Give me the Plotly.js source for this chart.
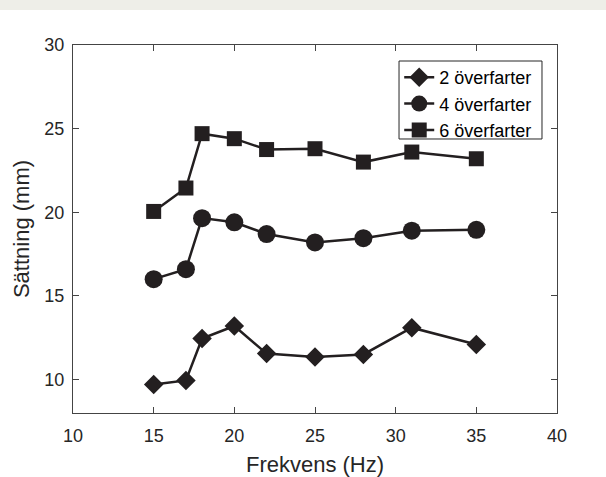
<!DOCTYPE html>
<html>
<head>
<meta charset="utf-8">
<script src="https://cdn.plot.ly/plotly-3.0.1.min.js"></script>
<style>
  html, body { margin: 0; padding: 0; background: #ffffff; }
  #band { position: absolute; left: 0; top: 0; width: 606px; height: 10px; background: #eeeee8; z-index: 5; }
  #chart { width: 606px; height: 477px; }
</style>
</head>
<body>
<div id="band"></div>
<div id="chart"></div>
<script>
const frequencies = [15, 17, 18, 20, 22, 25, 28, 31, 35];
const pass2 = [9.7, 9.95, 12.45, 13.2, 11.55, 11.35, 11.5, 13.1, 12.1];
const pass4 = [16.0, 16.6, 19.65, 19.4, 18.7, 18.2, 18.45, 18.9, 18.95];
const pass6 = [20.05, 21.45, 24.7, 24.4, 23.75, 23.8, 23.0, 23.6, 23.2];
const seriesNames = ['2 överfarter', '4 överfarter', '6 överfarter'];
const xTicks = [10, 15, 20, 25, 30, 35, 40];
const yTicks = [10, 15, 20, 25, 30];

const ink = '#231f20';
const font = 'Liberation Sans, Arial, Helvetica, sans-serif';

function trace(y, name, symbol, size) {
  return {
    x: frequencies, y: y, name: name, type: 'scatter', mode: 'lines+markers',
    line: {color: ink, width: 2.5},
    marker: {symbol: symbol, size: size, color: ink, line: {width: 0}}
  };
}

const data = [
  trace(pass2, seriesNames[0], 'diamond', 15),
  trace(pass4, seriesNames[1], 'circle', 18),
  trace(pass6, seriesNames[2], 'square', 15)
];

const axisCommon = {
  showgrid: false, zeroline: false, showline: true, linecolor: '#444', linewidth: 1,
  mirror: 'ticks', ticks: 'inside', ticklen: 6, tickwidth: 1, tickcolor: '#444',
  tickfont: {family: font, size: 18, color: '#262626'}
};

const layout = {
  width: 606, height: 477,
  margin: {l: 73, r: 49, t: 45, b: 64},
  paper_bgcolor: '#ffffff', plot_bgcolor: '#ffffff',
  showlegend: true,
  legend: {
    x: 0.674, y: 0.962, xanchor: 'left', yanchor: 'top',
    bgcolor: 'rgba(0,0,0,0)', borderwidth: 0,
    font: {family: font, size: 18, color: '#000000'},
    tracegroupgap: 0, itemwidth: 30
  },
  shapes: [{
    type: 'rect', xref: 'paper', yref: 'paper', layer: 'above',
    x0: 0.6736, x1: 0.969, y0: 0.7446, y1: 0.9565,
    line: {color: '#262626', width: 1}, fillcolor: 'rgba(255,255,255,1)'
  }],
  xaxis: Object.assign({}, axisCommon, {
    range: [10, 40], tickvals: xTicks, ticktext: xTicks.map(String),
    ticklabelstandoff: 6,
    title: {text: 'Frekvens (Hz)', font: {family: font, size: 22, color: '#262626'}, standoff: 12}
  }),
  yaxis: Object.assign({}, axisCommon, {
    range: [8, 30], tickvals: yTicks, ticktext: yTicks.map(String),
    ticklabelstandoff: 4,
    title: {text: 'Sättning (mm)', font: {family: font, size: 22, color: '#262626'}, standoff: 8}
  })
};

Plotly.newPlot('chart', data, layout, {displayModeBar: false, staticPlot: true});
</script>
</body>
</html>
